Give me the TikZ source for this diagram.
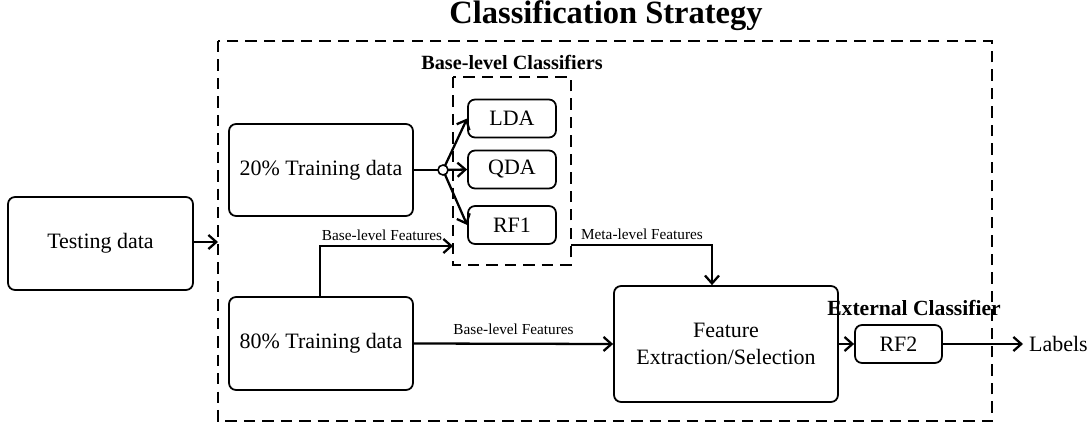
\documentclass[tikz,border=0pt]{standalone}
\usepackage{fontspec}
\setmainfont{Liberation Serif}
\usetikzlibrary{arrows.meta}
\tikzset{
	box/.style={draw, rounded corners=4pt, line width=1pt, align=center, inner sep=0pt, font=\fontsize{12.5}{15.5}\selectfont},
	conn/.style={line width=1.3pt, -{Straight Barb[length=4.5pt,width=8pt,line width=1.3pt]}},
	frame/.style={line width=1.1pt, dash pattern=on 6.5pt off 4pt},
	small/.style={font=\fontsize{8.7}{10}\selectfont},
	heading/.style={font=\bfseries\fontsize{11.5}{14}\selectfont}
}
\begin{document}
\begin{tikzpicture}[x=0.02cm,y=-0.02cm]
\useasboundingbox (0,0) rectangle (1092,429);
\node [anchor=base, inner sep=0pt, font=\bfseries\fontsize{18.5}{20}\selectfont] (title) at (606,24) {Classification Strategy};
\draw [frame] (218,41) rectangle (992,421);
\draw [frame] (453,77) rectangle (571,265);
\node [heading] (baseh) at (512,62) {Base-level Classifiers};
\node [heading, font=\bfseries\fontsize{12.3}{14}\selectfont] (exth) at (914,308) {External Classifier};
% data boxes
\node [box, minimum width=3.7cm, minimum height=1.86cm] (test) at (100.5,243.5) {Testing data};
\node [box, minimum width=3.68cm, minimum height=1.84cm] (tr20) at (321,170) {20\% Training data};
\node [box, minimum width=3.68cm, minimum height=1.86cm] (tr80) at (321,343.5) {80\% Training data};
% base-level classifiers
\foreach \n/\y/\t in {lda/118.5/LDA,qda/169.5/QDA,rf1/225/RF1}
	\node [box, minimum width=1.76cm, minimum height=0.76cm] (\n) at (512,\y) {\t};
\node [box, minimum width=4.48cm, minimum height=2.32cm] (fes) at (726,344) {Feature\\Extraction/Selection};
\node [box, minimum width=1.74cm, minimum height=0.76cm] (rf2) at (898.5,344) {RF2};
\node [anchor=west, font=\fontsize{12.5}{15}\selectfont] (labels) at (1023,344) {Labels};
% connectors
\coordinate (inlet) at (218,242);
\draw [conn] (test.east |- inlet) -- (inlet);
\coordinate (jn) at (443,170);
\draw [line width=1.3pt] (tr20.east) -- (jn);
\foreach \n in {lda,qda,rf1}
	\draw [conn] (jn) -- (\n.west);
\node [circle, draw, line width=0.9pt, fill=white, minimum size=0.2cm, inner sep=0pt] (jnc) at (jn) {};
\coordinate (blf) at (453,246);
\draw [conn] (tr80.north -| 320,0) |- (blf);
\node [small] (blfl) at (382,235) {Base-level Features};
\coordinate (mlf) at (571,245);
\draw [conn] (mlf) -| ([xshift=-0.28cm]fes.north);
\node [small] (mlfl) at (642,234) {Meta-level Features};
\draw [conn] (tr80.east) -- node [small, above, yshift=1pt] (blfl2) {Base-level Features} (fes.west);
\draw [conn] (fes.east) -- (rf2.west);
\draw [conn] (rf2.east) -- (labels.west);
\end{tikzpicture}
\end{document}
